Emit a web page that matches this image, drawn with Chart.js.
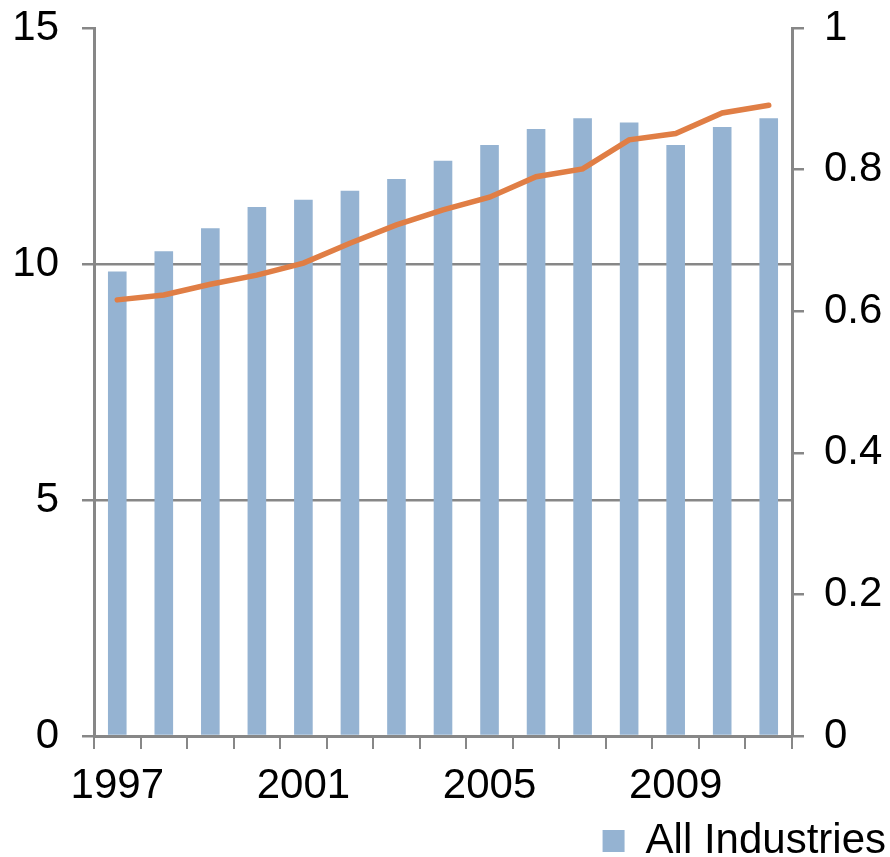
<!DOCTYPE html>
<html>
<head>
<meta charset="utf-8">
<script src="https://cdn.jsdelivr.net/npm/chart.js@4.4.0/dist/chart.umd.min.js"></script>
<style>
    html, body { margin: 0; padding: 0; background: #fff; overflow: hidden; }
    #wrap { position: absolute; left: 0; top: 0; width: 890px; height: 872px; }
</style>
</head>
<body>
<div id="wrap"><canvas id="myChart"></canvas></div>
<script>
// Datos
const years = ['1997', '1998', '1999', '2000', '2001', '2002', '2003', '2004',
               '2005', '2006', '2007', '2008', '2009', '2010', '2011'];
const allIndustries = [9.84, 10.27, 10.76, 11.21, 11.36, 11.55, 11.80, 12.19,
                       12.52, 12.86, 13.09, 13.00, 12.52, 12.90, 13.09];
const ratioLine = [0.616, 0.623, 0.638, 0.651, 0.668, 0.696, 0.722, 0.743,
                   0.761, 0.790, 0.801, 0.842, 0.851, 0.880, 0.891];
const leftTicks = [0, 5, 10, 15];
const rightTicks = [0, 0.2, 0.4, 0.6, 0.8, 1];

const axisColor = '#878787';
const font = { family: '"Liberation Sans", Arial, sans-serif', size: 42 };

// Forzar el área del gráfico (arriba en y=28)
function fixVertical(scale, width) {
    scale.width = width;
    scale.paddingTop = 28;
    scale.paddingBottom = 0;
}

const ctx = document.getElementById('myChart').getContext('2d');
const myChart = new Chart(ctx, {
    data: {
        labels: years,
        datasets: [
            {
                type: 'line',
                label: 'Ratio',
                data: ratioLine,
                yAxisID: 'y1',
                borderColor: '#E07E45',
                borderWidth: 5.5,
                pointRadius: 0,
                tension: 0,
                borderCapStyle: 'round',
                order: 0
            },
            {
                type: 'bar',
                label: 'All Industries',
                data: allIndustries,
                yAxisID: 'y',
                backgroundColor: '#95B3D2',
                borderWidth: 0,
                barPercentage: 0.4,
                categoryPercentage: 1,
                order: 1
            }
        ]
    },
    options: {
        responsive: true,
        maintainAspectRatio: false,
        animation: false,
        layout: { padding: 0 },
        plugins: {
            legend: {
                position: 'bottom',
                align: 'end',
                labels: {
                    filter: item => item.text === 'All Industries',
                    boxWidth: 22,
                    boxHeight: 22,
                    color: '#000',
                    font: font,
                    padding: 4
                }
            },
            tooltip: { enabled: false }
        },
        scales: {
            x: {
                grid: {
                    offset: true,
                    drawOnChartArea: false,
                    tickLength: 13,
                    tickColor: axisColor,
                    lineWidth: 2
                },
                border: { color: axisColor, width: 3 },
                ticks: {
                    autoSkip: false,
                    maxRotation: 0,
                    color: '#000',
                    font: font,
                    padding: 12,
                    callback: function(value, index) {
                        return index % 4 === 0 ? years[index] : '';
                    }
                },
                afterFit: function(scale) { scale.height = 80; }
            },
            y: {
                position: 'left',
                min: 0,
                max: 15,
                afterBuildTicks: function(scale) {
                    scale.ticks = leftTicks.map(v => ({ value: v }));
                },
                grid: {
                    color: ctx => ctx.tick && ctx.tick.value === 15 ? 'rgba(0,0,0,0)' : axisColor,
                    tickColor: axisColor,
                    lineWidth: 2.5,
                    tickLength: 12
                },
                border: { color: axisColor, width: 3 },
                ticks: {
                    color: '#000',
                    font: font,
                    padding: 23
                },
                afterFit: scale => fixVertical(scale, 94)
            },
            y1: {
                position: 'right',
                min: 0,
                max: 1,
                afterBuildTicks: function(scale) {
                    scale.ticks = rightTicks.map(v => ({ value: v }));
                },
                grid: {
                    drawOnChartArea: false,
                    tickColor: axisColor,
                    lineWidth: 2.5,
                    tickLength: 12
                },
                border: { color: axisColor, width: 3 },
                ticks: {
                    color: '#000',
                    font: font,
                    padding: 20,
                    callback: v => String(Math.round(v * 10) / 10)
                },
                afterFit: scale => fixVertical(scale, 98)
            }
        }
    }
});
</script>
</body>
</html>
